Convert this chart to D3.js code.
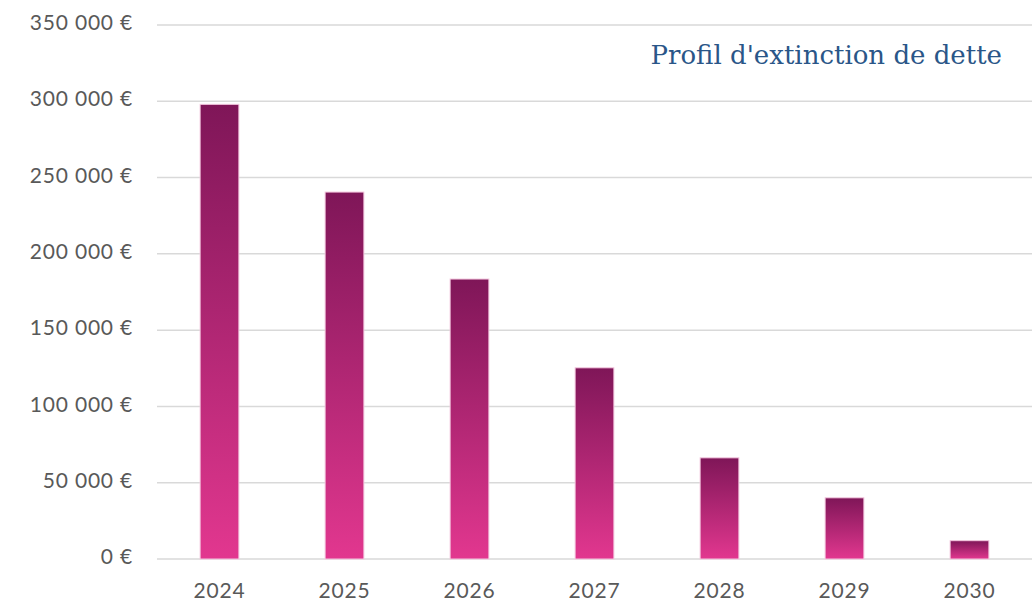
<!DOCTYPE html>
<html>
<head>
<meta charset='utf-8'>
<script src='https://d3js.org/d3.v7.min.js'></script>
<style>
    body {
        margin: 0;
        background: #fff;
    }
    .tick text {
        font-family: Lato, 'Open Sans', sans-serif;
        fill: #595959;
        letter-spacing: 0.8px;
    }
</style>
</head>
<body>
<svg id='chart' width='1036' height='604'></svg>
<script>
    // years and remaining debt (euros)
    const years = ['2024', '2025', '2026', '2027', '2028', '2029', '2030'];
    const debt = [298000, 240500, 183500, 125300, 66300, 40100, 12000];
    const yTicks = [0, 50000, 100000, 150000, 200000, 250000, 300000, 350000];
    const title = "Profil d'extinction de dette";

    const plotLeft = 157, plotRight = 1032, plotTop = 25, plotBottom = 559;

    const svg = d3.select('#chart');

    const fr = d3.formatLocale({
        decimal: ',',
        thousands: '\u00a0',
        grouping: [3],
        currency: ['', '\u00a0€']
    });
    const fmt = fr.format(',.0f');

    const x = d3.scaleBand()
        .domain(years)
        .range([plotLeft, plotRight])
        .paddingInner(0.69)
        .paddingOuter(0.345);

    const y = d3.scaleLinear()
        .domain([0, 350000])
        .range([plotBottom, plotTop]);

    // gradient for the bars, dark at top, pink at bottom
    const defs = svg.append('defs');
    const grad = defs.append('linearGradient')
        .attr('id', 'barGrad')
        .attr('x1', 0).attr('y1', 0)
        .attr('x2', 0).attr('y2', 1);
    grad.append('stop').attr('offset', '0%').attr('stop-color', '#7f1658');
    grad.append('stop').attr('offset', '100%').attr('stop-color', '#e2378f');

    // grid
    svg.append('g')
        .selectAll('line')
        .data(yTicks)
        .join('line')
        .attr('x1', plotLeft)
        .attr('x2', plotRight)
        .attr('y1', d => y(d))
        .attr('y2', d => y(d))
        .attr('stroke', '#d9d9d9')
        .attr('stroke-width', 1.5);

    // y axis labels
    const yaxis = svg.append('g')
        .attr('transform', 'translate(' + (plotLeft - 24) + ',0)')
        .call(d3.axisLeft(y).tickValues(yTicks).tickSize(0).tickPadding(0)
            .tickFormat(d => fmt(d) + '\u00a0€'));
    yaxis.select('.domain').remove();
    yaxis.selectAll('text').attr('font-size', 21).attr('dy', '0.22em');

    // x axis labels
    const xaxis = svg.append('g')
        .attr('transform', 'translate(0,' + plotBottom + ')')
        .call(d3.axisBottom(x).tickSize(0).tickPadding(24));
    xaxis.select('.domain').remove();
    xaxis.selectAll('text').attr('font-size', 21);

    // bars
    svg.append('g')
        .selectAll('rect')
        .data(debt)
        .join('rect')
        .attr('x', (d, i) => x(years[i]))
        .attr('y', d => y(d))
        .attr('width', x.bandwidth())
        .attr('height', d => plotBottom - y(d))
        .attr('fill', 'url(#barGrad)')
        .attr('stroke', '#f3c6de')
        .attr('stroke-width', 1);

    svg.append('text')
        .attr('x', 1002)
        .attr('y', 64)
        .attr('text-anchor', 'end')
        .attr('font-family', "'DejaVu Serif', 'Liberation Serif', serif")
        .attr('font-size', 26)
        .attr('fill', '#2a5688')
        .text(title);
</script>
</body>
</html>
